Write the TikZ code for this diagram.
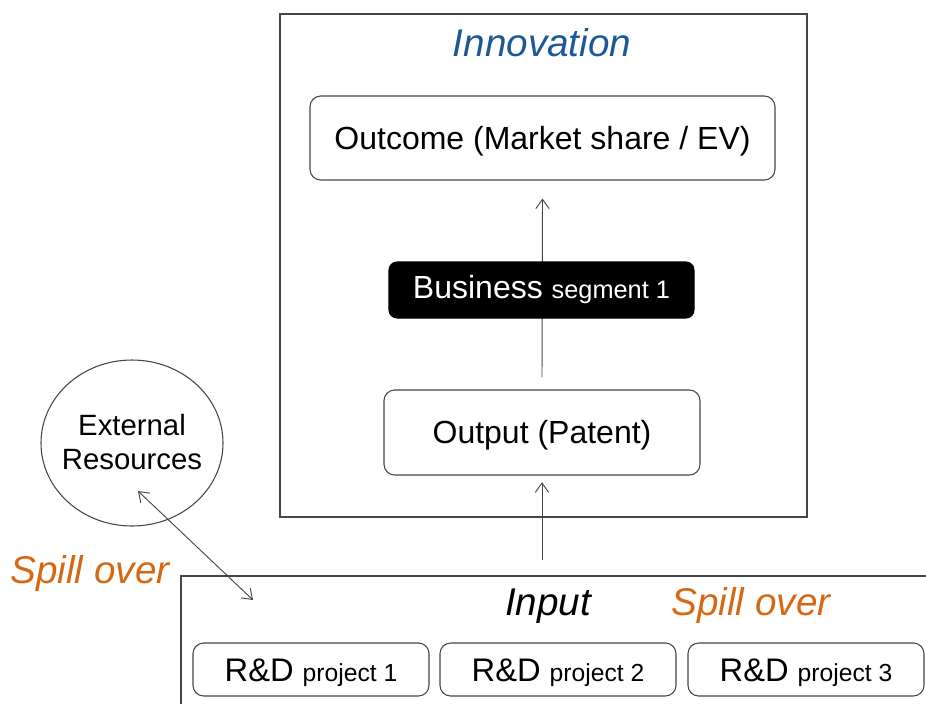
\documentclass[tikz,border=0pt]{standalone}
\usepackage{fontspec}
\setmainfont{Liberation Sans}
\usetikzlibrary{arrows.meta,shapes.geometric}
\definecolor{innoblue}{RGB}{28,88,150}
\definecolor{spillorange}{RGB}{214,104,20}
\definecolor{linegray}{RGB}{70,70,70}
\tikzset{
  box/.style={draw=linegray, line width=0.8pt, rounded corners=8pt, fill=white, align=center, inner sep=0pt},
  frame/.style={draw=linegray, line width=0.8pt, inner sep=0pt},
  arr/.style={draw=linegray, line width=0.7pt, -{Straight Barb[length=7pt,width=10pt]}},
  darr/.style={draw=linegray, line width=0.7pt, {Straight Barb[length=7pt,width=10pt]}-{Straight Barb[length=7pt,width=10pt]}},
  label/.style={font=\fontsize{29}{34}\selectfont\itshape, inner sep=0pt, anchor=base},
  main/.style={font=\fontsize{24}{28}\selectfont, text height=17.2pt, text depth=0pt},
  rd/.style={box, minimum width=177pt, minimum height=39.75pt, font=\fontsize{24.5}{28}\selectfont, text height=17.5pt, text depth=0pt},
}
\newcommand{\smallrd}{\fontsize{18.5}{22}\selectfont}
\begin{document}
\begin{tikzpicture}[x=0.75pt, y=-0.75pt]
\useasboundingbox (0,0) rectangle (926,704);
% innovation frame
\node[frame, minimum width=395.25pt, minimum height=377.25pt] (inno) at (543.5,265.5) {};
\node[label, text=innoblue] (innolbl) at (542,56) {Innovation};
% boxes
\node[box, main, minimum width=348.75pt, minimum height=63pt] (outcome) at (542.5,138) {Outcome (Market share / EV)};
\node[box, main, minimum width=237pt, minimum height=63.75pt] (output) at (542,432.5) {Output (Patent)};
% arrow output -> outcome behind business
\draw[arr] ([yshift=9pt]output.north) -- ([yshift=-13.5pt]outcome.south);
\node[box, draw=black, fill=black, text=white, rounded corners=6pt, minimum width=228.75pt, minimum height=42pt] (business) at (541.5,290) {\fontsize{24}{28}\selectfont Business \fontsize{19}{22}\selectfont segment 1};
% lower frame
\coordinate (lowtr) at (926,576);
\coordinate (lowbl) at (181,704);
\draw[draw=linegray, line width=0.8pt] (lowtr) -| (lowbl);
\node[label] (input) at (548,615) {Input};
\node[label, text=spillorange] (spill2) at (751,615) {Spill over};
\node[label, text=spillorange] (spill1) at (90,583) {Spill over};
% input arrow
\coordinate (inpstart) at (542,560);
\draw[arr] (inpstart) -- ([yshift=-5pt]output.south);
% R&D boxes
\node[rd] (rd1) at (311,669.5) {R\&D {\smallrd project 1}};
\node[rd] (rd2) at (558,669.5) {R\&D {\smallrd project 2}};
\node[rd] (rd3) at (806,669.5) {R\&D {\smallrd project 3}};
% external resources
\node[ellipse, draw=linegray, line width=0.8pt, minimum width=136.5pt, minimum height=124.5pt, inner sep=0pt] (ext) at (132,443) {};
\node[align=center, inner sep=0pt, font=\fontsize{22}{25.5}\selectfont] (exttext) at ([yshift=1pt]ext.center) {External\\Resources};
\coordinate (spA) at (138,491);
\coordinate (spB) at (253,600);
\draw[darr] (spA) -- (spB);
\end{tikzpicture}
\end{document}
